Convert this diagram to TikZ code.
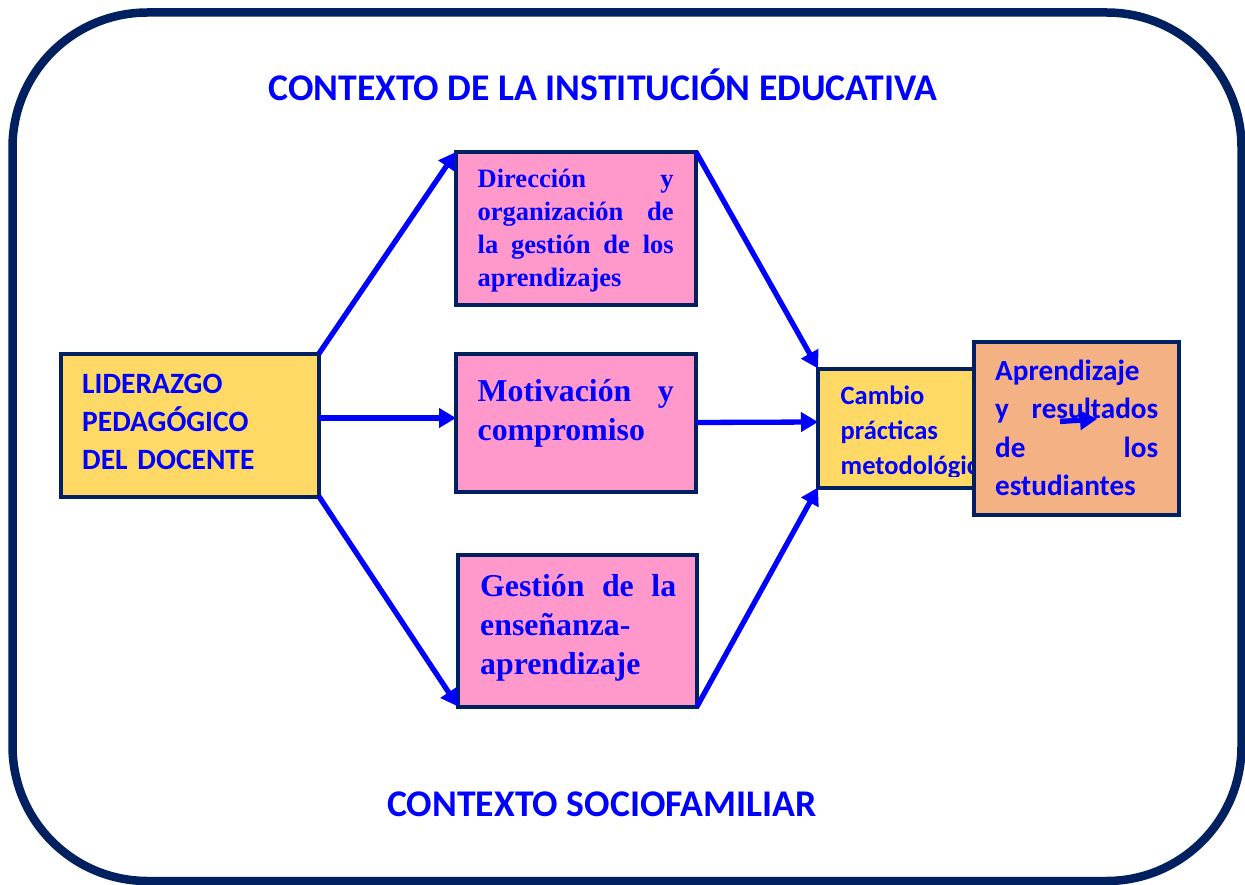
\documentclass[tikz,border=0pt]{standalone}
\usepackage{fontspec}
\setmainfont{Liberation Serif}
\newfontfamily\calfont{Carlito}
\usetikzlibrary{arrows.meta}
\definecolor{navy}{HTML}{002060}
\definecolor{tblue}{HTML}{0000FF}
\definecolor{ylw}{HTML}{FFD966}
\definecolor{pnk}{HTML}{FF99CC}
\definecolor{slm}{HTML}{F4B183}
\tikzset{
  frame/.style={draw=navy, line width=8.5pt, rounded corners=135pt},
  box/.style={draw=navy, line width=4pt, rectangle, inner sep=0pt, outer sep=0pt, anchor=north west},
  txt/.style={text=tblue, anchor=base west, inner sep=0pt, align=left},
  ttl/.style={text=tblue, anchor=base, inner sep=0pt, font=\calfont\bfseries\fontsize{37.7}{44}\selectfont},
  conn/.style={draw=tblue, line width=5.3pt, -{Triangle[length=17pt,width=19pt]}}
}
\begin{document}
\begin{tikzpicture}[x=1pt,y=-1pt]
\useasboundingbox (0,0) rectangle (1245,885);
\draw[frame] (12.5,12.5) rectangle (1241.5,881);

\node[ttl] (t1) at (603,101) {CONTEXTO DE LA INSTITUCIÓN EDUCATIVA};
\node[ttl] (t2) at (602,816) {CONTEXTO SOCIOFAMILIAR};

\node[box, fill=ylw, minimum width=258, minimum height=143] (lid) at (61,353.5) {};
\node[txt, font=\calfont\bfseries\fontsize{29.5}{38}\selectfont, text width=230] (lidt) at (82,393) {LIDERAZGO\\PEDAGÓGICO\\DEL DOCENTE};

\node[box, fill=pnk, minimum width=240, minimum height=153] (dir) at (456,152) {};
\node[txt, font=\bfseries\fontsize{26.5}{33}\selectfont, text width=196] (dirt) at (477.5,188) {Dirección\hfill y\\organización\hfill de\\la\hfill gestión\hfill de\hfill los\\aprendizajes};

\node[box, fill=pnk, minimum width=240, minimum height=138] (mot) at (456,353.5) {};
\node[txt, font=\bfseries\fontsize{31.8}{38.5}\selectfont, text width=196] (mott) at (477.5,401.5) {Motivación\hfill y\\compromiso};

\node[box, fill=pnk, minimum width=239, minimum height=151.5] (ges) at (458,555) {};
\node[txt, font=\bfseries\fontsize{31.8}{39}\selectfont, text width=196] (gest) at (480,596.5) {Gestión\hfill de\hfill la\\enseñanza-\\aprendizaje};

\node[box, fill=ylw, minimum width=180, minimum height=119] (cam) at (818,368.5) {};
\begin{scope}
\clip (818,368.5) rectangle (1000,476);
\node[txt, font=\calfont\bfseries\fontsize{26.5}{35}\selectfont, text width=220] (camt) at (840.5,404) {Cambio\\prácticas\\metodológicas};
\end{scope}

\draw[conn] (lid.north east) -- (dir.north west);
\draw[conn] ([yshift=7pt]lid.east) -- ([yshift=4.5pt]mot.west);
\draw[conn] (lid.south east) -- (ges.south west);
\draw[conn] (dir.north east) -- (cam.north west);
\draw[conn] (mot.east) -- ([yshift=6pt]cam.west);
\draw[conn] (ges.south east) -- (cam.south west);

\node[box, fill=slm, minimum width=205.5, minimum height=173] (apr) at (973.5,342) {};
\node[txt, font=\calfont\bfseries\fontsize{29.2}{38.5}\selectfont, text width=163] (aprt) at (995,380.5) {Aprendizaje\\y\hfill resultados\\de\hfill los\\estudiantes};

\coordinate (s1) at (1060,421.5);
\coordinate (s2) at (1097,419);
\draw[conn] (s1) -- (s2);
\end{tikzpicture}
\end{document}
